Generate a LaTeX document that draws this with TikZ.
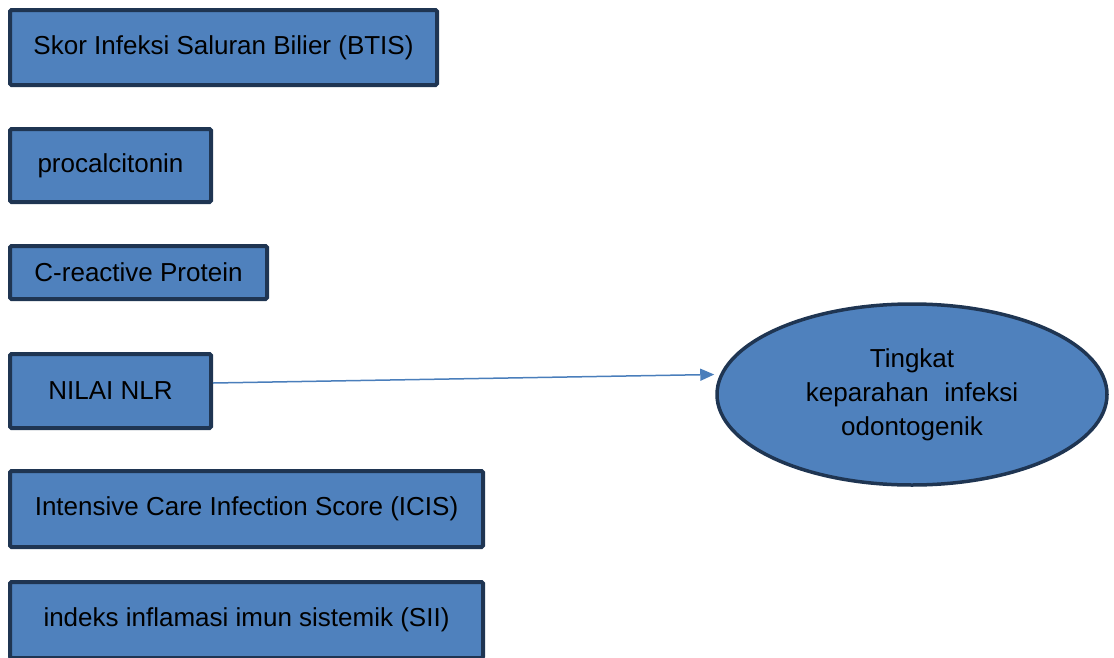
\documentclass[tikz,border=0pt]{standalone}
\usepackage{fontspec}
\setmainfont{Liberation Sans}
\usepackage{tikz}
\usetikzlibrary{arrows.meta,shapes.geometric}
\definecolor{boxfill}{HTML}{4F81BD}
\definecolor{boxline}{HTML}{1F3552}
\definecolor{arrline}{HTML}{4A7EBB}

\begin{document}
\begin{tikzpicture}[
  factor/.style={draw=boxline,line width=4bp,fill=boxfill,rounded corners=1.5bp,inner sep=0pt,
    minimum height=#1,font=\fontsize{26bp}{34bp}\selectfont},
  outcome/.style={draw=boxline,line width=3.5bp,fill=boxfill,ellipse,inner sep=0pt,
    minimum width=390bp,minimum height=181bp,align=center,font=\fontsize{26bp}{34bp}\selectfont},
  link/.style={-{Triangle[length=14bp,width=12bp]},draw=arrline,fill=arrline,line width=1.5bp}]

\useasboundingbox (0bp,0bp) rectangle (1114bp,-658bp);

\node (BTIS) at (223.5bp,-47.5bp)[factor=75bp,minimum width=427bp] {Skor Infeksi Saluran Bilier (BTIS)};
\node (PCT) at (110.5bp,-165.5bp)[factor=73bp,minimum width=201bp] {procalcitonin};
\node (CRP) at (138.5bp,-272.5bp)[factor=53bp,minimum width=257bp] {C-reactive Protein};
\node (NLR) at (110.5bp,-391bp)[factor=74bp,minimum width=201bp] {NILAI NLR};
\node (ICIS) at (246.5bp,-509bp)[factor=76bp,minimum width=473bp] {Intensive Care Infection Score (ICIS)};
\node (SII) at (246.5bp,-620bp)[factor=76bp,minimum width=473bp] {indeks inflamasi imun sistemik (SII)};

\node (Sev) at (912bp,-394.5bp)[outcome] {Tingkat\\keparahan\hspace{0.6em}infeksi\\odontogenik};

\draw [link] ([yshift=8bp]NLR.east) -- ([yshift=20bp,xshift=-1bp]Sev.west);
\end{tikzpicture}
\end{document}
